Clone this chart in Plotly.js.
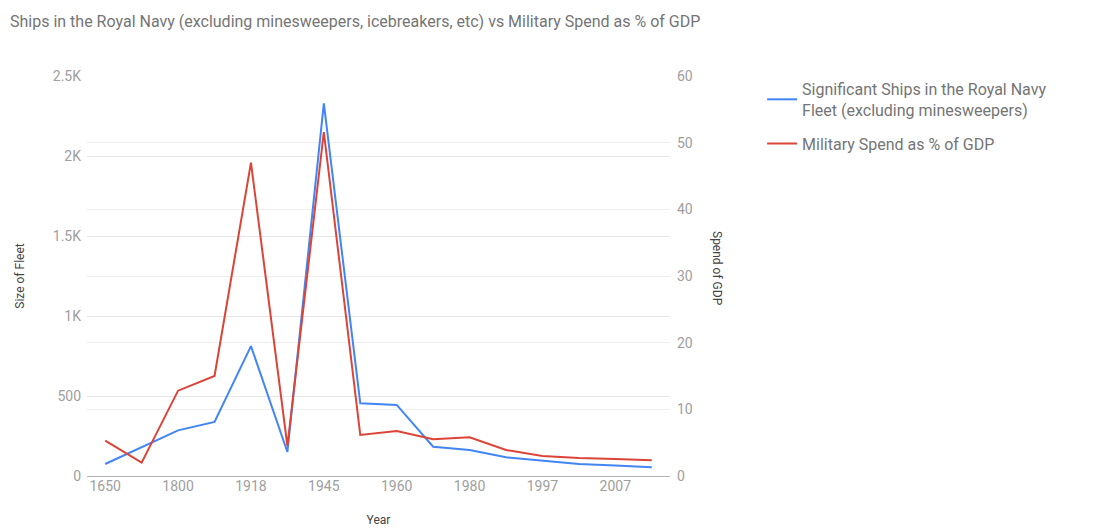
<!DOCTYPE html>
<html>
<head>
<meta charset="utf-8">
<script src="https://cdn.plot.ly/plotly-3.0.1.min.js"></script>
<style>html,body{margin:0;padding:0;background:#fff;}#chart{width:1098px;height:528px;}</style>
</head>
<body>
<div id="chart"></div>
<script>
// Categories (x axis, discrete years)
var years = ["1650","1700","1800","1815","1918","1930","1945","1950","1960","1970","1980","1990","1997","2000","2007","2010"];
// Tick labels shown on the x axis
var yearTicks = ["1650","1800","1918","1945","1960","1980","1997","2007"];
// Significant ships in the Royal Navy fleet (left axis)
var ships = [75, 180, 285, 338, 812, 150, 2329, 454, 444, 183, 162, 117, 96, 75, 65, 54];
// Military spend as % of GDP (right axis)
var spend = [5.3, 2.0, 12.8, 15.0, 47.0, 4.5, 51.6, 6.15, 6.75, 5.5, 5.8, 3.9, 3.0, 2.7, 2.55, 2.35];
// Axis ticks
var leftTickVals = [0, 500, 1000, 1500, 2000, 2500];
var leftTickText = ["0", "500", "1K", "1.5K", "2K", "2.5K"];
var rightTickVals = [0, 10, 20, 30, 40, 50, 60];

var FONT = "Roboto, Arial, sans-serif";
var GREY = "#757575";

var traces = [
  {
    x: years, y: ships, type: "scatter", mode: "lines", yaxis: "y",
    name: "Significant Ships in the Royal Navy<br>Fleet (excluding minesweepers)",
    legendgroup: "ships",
    line: {color: "#4285f4", width: 2}
  },
  {
    x: years, y: spend, type: "scatter", mode: "lines", yaxis: "y2",
    name: "Military Spend as % of GDP",
    legendgroup: "spend",
    line: {color: "#db4437", width: 2}
  }
];

var layout = {
  width: 1098, height: 528,
  paper_bgcolor: "#ffffff", plot_bgcolor: "#ffffff",
  margin: {l: 87, r: 428, t: 76, b: 52},
  font: {family: FONT, color: GREY},
  title: {
    text: "Ships in the Royal Navy (excluding minesweepers, icebreakers, etc) vs Military Spend as % of GDP",
    font: {family: FONT, size: 16, color: GREY},
    xref: "container", yref: "container", x: 10/1098, xanchor: "left", y: 1 - 21/528, yanchor: "middle"
  },
  xaxis: {
    type: "category", range: [-0.5, years.length - 0.5],
    tickmode: "array", tickvals: yearTicks, ticktext: yearTicks,
    showgrid: false, zeroline: false, showline: false, ticks: "",
    tickfont: {family: FONT, size: 14, color: "#9e9e9e"},
    title: {text: "Year", font: {family: FONT, size: 12, color: "#444444"}, standoff: 22},
    automargin: false, fixedrange: true
  },
  yaxis: {
    range: [0, 2500], tickmode: "array", tickvals: leftTickVals, ticktext: leftTickText,
    showgrid: true, gridcolor: "#e6e6e6", gridwidth: 1,
    zeroline: true, zerolinecolor: "#b4b4b4", zerolinewidth: 1,
    showline: false, ticks: "", ticklabelstandoff: 5,
    tickfont: {family: FONT, size: 14, color: "#9e9e9e"},
    title: {text: "Size of Fleet", font: {family: FONT, size: 12, color: "#444444"}, standoff: 25},
    automargin: false, fixedrange: true
  },
  yaxis2: {
    overlaying: "y", side: "right",
    range: [0, 60], tickmode: "array", tickvals: rightTickVals,
    showgrid: true, gridcolor: "#eeeeee", gridwidth: 1,
    zeroline: false, showline: false, ticks: "", ticklabelstandoff: 6,
    tickfont: {family: FONT, size: 14, color: "#9e9e9e"},
    automargin: false, fixedrange: true
  },
  legend: {
    x: 1.158, xanchor: "left", y: 1.01, yanchor: "top",
    font: {family: FONT, size: 16, color: GREY},
    traceorder: "grouped", tracegroupgap: 10,
    bgcolor: "rgba(0,0,0,0)"
  },
  annotations: [
    {
      text: "Spend of GDP", xref: "paper", yref: "paper", x: 1.0, y: 0.52,
      xshift: 56, showarrow: false, textangle: 90,
      font: {family: FONT, size: 12, color: "#444444"}
    }
  ],
  showlegend: true
};

Plotly.newPlot("chart", traces, layout, {displayModeBar: false, staticPlot: true});
</script>
</body>
</html>
